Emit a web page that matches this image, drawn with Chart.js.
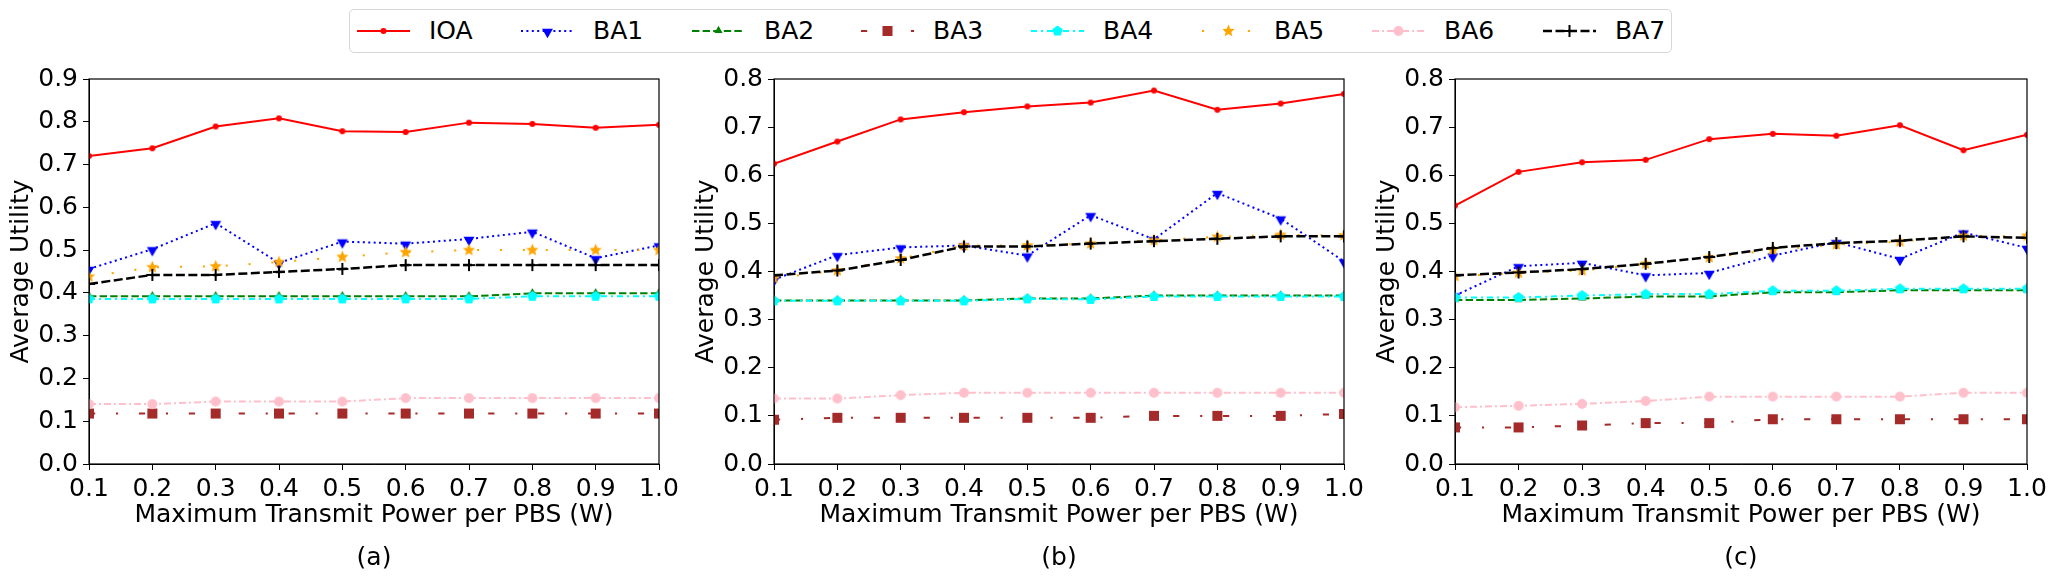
<!DOCTYPE html>
<html>
<head>
<meta charset="utf-8">
<script src="https://cdn.jsdelivr.net/npm/chart.js@4.4.0/dist/chart.umd.min.js"></script>
<style>
  body { margin: 0; width: 2056px; height: 578px; background: #fff; position: relative; overflow: hidden; font-family: "DejaVu Sans", sans-serif; }
  canvas.panel { position: absolute; top: 0; }
  .cap { position: absolute; top: 540px; width: 200px; text-align: center; font-size: 25px; line-height: 34px; color: #000; }
  #legend { position: absolute; left: 349px; top: 9px; width: 1321px; height: 42px; border: 1px solid #d6d6d6; border-radius: 5px; }
  .item { position: absolute; top: 0; height: 42px; }
  .item canvas { position: absolute; left: 0; top: 0; }
  .item span { position: absolute; top: 0; left: 72px; line-height: 42px; font-size: 25px; white-space: nowrap; color: #000; }
</style>
</head>
<body>
<div id="legend"></div>
<canvas id="chartA" class="panel" width="680" height="578" style="left:0px"></canvas>
<canvas id="chartB" class="panel" width="680" height="578" style="left:685px"></canvas>
<canvas id="chartC" class="panel" width="690" height="578" style="left:1366px"></canvas>
<div class="cap" style="left:274px">(a)</div>
<div class="cap" style="left:959px">(b)</div>
<div class="cap" style="left:1641px">(c)</div>
<script>
const xTicks = ['0.1', '0.2', '0.3', '0.4', '0.5', '0.6', '0.7', '0.8', '0.9', '1.0'];
const seriesNames = ['IOA', 'BA1', 'BA2', 'BA3', 'BA4', 'BA5', 'BA6', 'BA7'];

// panel (a)
const ioaA = [0.720, 0.738, 0.789, 0.808, 0.778, 0.776, 0.798, 0.795, 0.786, 0.793];
const ba1A = [0.456, 0.502, 0.563, 0.470, 0.520, 0.515, 0.526, 0.543, 0.481, 0.511];
const ba2A = [0.392, 0.392, 0.392, 0.392, 0.392, 0.392, 0.392, 0.399, 0.399, 0.399];
const ba3A = [0.118, 0.118, 0.118, 0.118, 0.118, 0.118, 0.118, 0.118, 0.118, 0.118];
const ba4A = [0.386, 0.386, 0.386, 0.386, 0.386, 0.386, 0.386, 0.392, 0.392, 0.392];
const ba5A = [0.438, 0.460, 0.462, 0.472, 0.484, 0.495, 0.500, 0.500, 0.500, 0.500];
const ba6A = [0.140, 0.140, 0.146, 0.146, 0.146, 0.154, 0.154, 0.154, 0.154, 0.154];
const ba7A = [0.421, 0.442, 0.442, 0.449, 0.456, 0.465, 0.465, 0.465, 0.465, 0.465];

// panel (b)
const ioaB = [0.624, 0.670, 0.716, 0.731, 0.743, 0.751, 0.776, 0.736, 0.749, 0.769];
const ba1B = [0.383, 0.434, 0.450, 0.454, 0.433, 0.517, 0.467, 0.563, 0.510, 0.421];
const ba2B = [0.340, 0.340, 0.340, 0.340, 0.344, 0.344, 0.350, 0.350, 0.350, 0.350];
const ba3B = [0.092, 0.096, 0.096, 0.096, 0.096, 0.096, 0.100, 0.100, 0.100, 0.104];
const ba4B = [0.339, 0.339, 0.339, 0.339, 0.343, 0.342, 0.348, 0.348, 0.348, 0.348];
const ba5B = [0.386, 0.402, 0.427, 0.454, 0.454, 0.458, 0.465, 0.472, 0.476, 0.475];
const ba6B = [0.136, 0.136, 0.143, 0.148, 0.148, 0.148, 0.148, 0.148, 0.148, 0.148];
const ba7B = [0.392, 0.402, 0.424, 0.452, 0.452, 0.458, 0.463, 0.468, 0.473, 0.473];

// panel (c)
const ioaC = [0.537, 0.607, 0.627, 0.632, 0.675, 0.686, 0.682, 0.704, 0.652, 0.684];
const ba1C = [0.350, 0.411, 0.418, 0.392, 0.397, 0.433, 0.461, 0.426, 0.481, 0.449];
const ba2C = [0.341, 0.341, 0.344, 0.348, 0.348, 0.357, 0.357, 0.361, 0.361, 0.361];
const ba3C = [0.076, 0.076, 0.080, 0.085, 0.085, 0.093, 0.093, 0.093, 0.093, 0.093];
const ba4C = [0.346, 0.346, 0.350, 0.353, 0.353, 0.360, 0.360, 0.364, 0.364, 0.364];
const ba5C = [0.390, 0.397, 0.402, 0.416, 0.429, 0.445, 0.456, 0.462, 0.474, 0.474];
const ba6C = [0.118, 0.121, 0.125, 0.131, 0.140, 0.140, 0.140, 0.140, 0.148, 0.148];
const ba7C = [0.392, 0.398, 0.405, 0.416, 0.430, 0.449, 0.459, 0.464, 0.473, 0.470];

// look of each series (matplotlib style)
const styles = [
  { color: '#ff0000', lw: 2,   dash: [],                    marker: 'circle',  size: 6 },
  { color: '#0000ff', lw: 2,   dash: [2, 3.4],              marker: 'triDown', size: 12 },
  { color: '#008000', lw: 2,   dash: [7.4, 3.2],            marker: 'triUp',   size: 9 },
  { color: '#a52a2a', lw: 2,   dash: [6.2, 20.8, 2.1, 20.8], marker: 'square', size: 10 },
  { color: '#00ffff', lw: 2,   dash: [6, 4, 2, 4],          marker: 'pentagon', size: 11 },
  { color: '#ffa500', lw: 2,   dash: [2.1, 20.8],           marker: 'star',    size: 13 },
  { color: '#ffc0cb', lw: 2,   dash: [7, 3, 2, 3],          marker: 'circle',  size: 10 },
  { color: '#000000', lw: 2.5, dash: [9, 3.5],              marker: 'plus',    size: 12 }
];

function polygon(ctx, x, y, r, n, rot) {
  for (let k = 0; k < n; k++) {
    const a = rot + k * 2 * Math.PI / n;
    const px = x + r * Math.cos(a), py = y + r * Math.sin(a);
    if (k === 0) ctx.moveTo(px, py); else ctx.lineTo(px, py);
  }
  ctx.closePath();
}

function drawMarker(ctx, kind, x, y, s, color) {
  const r = s / 2;
  ctx.save();
  ctx.setLineDash([]);
  ctx.fillStyle = color;
  ctx.strokeStyle = color;
  ctx.beginPath();
  if (kind === 'circle') {
    ctx.arc(x, y, r, 0, Math.PI * 2);
    ctx.fill();
  } else if (kind === 'square') {
    ctx.rect(x - r, y - r, s, s);
    ctx.fill();
  } else if (kind === 'triDown') {
    polygon(ctx, x, y + r * 0.15, r * 1.05, 3, Math.PI / 2);
    ctx.fill();
  } else if (kind === 'triUp') {
    polygon(ctx, x, y - r * 0.1, r * 1.05, 3, -Math.PI / 2);
    ctx.fill();
  } else if (kind === 'pentagon') {
    polygon(ctx, x, y, r, 5, -Math.PI / 2);
    ctx.fill();
  } else if (kind === 'star') {
    for (let k = 0; k < 10; k++) {
      const a = -Math.PI / 2 + k * Math.PI / 5;
      const rr = k % 2 === 0 ? r : r * 0.45;
      const px = x + rr * Math.cos(a), py = y + rr * Math.sin(a);
      if (k === 0) ctx.moveTo(px, py); else ctx.lineTo(px, py);
    }
    ctx.closePath();
    ctx.fill();
  } else if (kind === 'plus') {
    ctx.lineWidth = 2;
    ctx.moveTo(x - r, y); ctx.lineTo(x + r, y);
    ctx.moveTo(x, y - r); ctx.lineTo(x, y + r);
    ctx.stroke();
  }
  ctx.restore();
}

function markerImage(st) {
  const c = document.createElement('canvas');
  c.width = st.size + 4;
  c.height = st.size + 4;
  drawMarker(c.getContext('2d'), st.marker, c.width / 2, c.height / 2, st.size, st.color);
  return c;
}
const markerImgs = styles.map(markerImage);

// legend (html, samples drawn by hand)
const legendStarts = [7, 171, 342, 511, 681, 852, 1022, 1193];
const legendEl = document.getElementById('legend');
seriesNames.forEach((name, i) => {
  const st = styles[i];
  const item = document.createElement('div');
  item.className = 'item';
  item.style.left = legendStarts[i] + 'px';
  const c = document.createElement('canvas');
  c.width = 56; c.height = 42;
  const ctx = c.getContext('2d');
  ctx.strokeStyle = st.color;
  ctx.lineWidth = st.lw;
  ctx.setLineDash(st.dash);
  ctx.beginPath();
  ctx.moveTo(0, 21); ctx.lineTo(53, 21);
  ctx.stroke();
  drawMarker(ctx, st.marker, 26.5, 21, st.size, st.color);
  const t = document.createElement('span');
  t.textContent = name;
  item.appendChild(c);
  item.appendChild(t);
  legendEl.appendChild(item);
});

const frame = {
  id: 'frame',
  afterDatasetsDraw(chart) {
    const a = chart.chartArea, ctx = chart.ctx;
    ctx.save();
    ctx.strokeStyle = '#000';
    ctx.lineWidth = 1.2;
    ctx.strokeRect(a.left, a.top, a.right - a.left, a.bottom - a.top);
    ctx.restore();
  }
};

const font = { family: 'DejaVu Sans', size: 25 };

function makeChart(id, series, yMax, padRight) {
  const datasets = series.map((vals, i) => ({
    label: seriesNames[i],
    data: vals,
    borderColor: styles[i].color,
    backgroundColor: styles[i].color,
    borderWidth: styles[i].lw,
    borderDash: styles[i].dash,
    pointStyle: markerImgs[i],
    pointRadius: 5,
    pointHoverRadius: 5,
    tension: 0,
    fill: false,
    clip: 0,
    order: 7 - i
  }));
  new Chart(document.getElementById(id).getContext('2d'), {
    type: 'line',
    data: { labels: xTicks, datasets: datasets },
    plugins: [frame],
    options: {
      responsive: false,
      animation: false,
      events: [],
      layout: { padding: { top: 79, left: 0, right: padRight, bottom: 48 } },
      plugins: { legend: { display: false }, tooltip: { enabled: false } },
      scales: {
        x: {
          type: 'category',
          offset: false,
          grid: { drawOnChartArea: false, tickLength: 6, color: '#000' },
          border: { color: '#000' },
          ticks: { font: font, color: '#000', padding: 4, maxRotation: 0, autoSkip: false },
          title: { display: true, text: 'Maximum Transmit Power per PBS (W)', font: font, color: '#000', padding: 0 },
          afterFit(s) { s.height = 66; s.paddingLeft = 0; s.paddingRight = 0; }
        },
        y: {
          min: 0,
          max: yMax,
          grid: { drawOnChartArea: false, tickLength: 6, color: '#000' },
          border: { color: '#000' },
          ticks: { font: font, color: '#000', padding: 5, stepSize: 0.1, callback: v => v.toFixed(1) },
          title: { display: true, text: 'Average Utility', font: font, color: '#000', padding: 6 },
          afterFit(s) { s.width = 89; s.paddingTop = 0; s.paddingBottom = 0; }
        }
      }
    }
  });
}

makeChart('chartA', [ioaA, ba1A, ba2A, ba3A, ba4A, ba5A, ba6A, ba7A], 0.9, 21);
makeChart('chartB', [ioaB, ba1B, ba2B, ba3B, ba4B, ba5B, ba6B, ba7B], 0.8, 21);
makeChart('chartC', [ioaC, ba1C, ba2C, ba3C, ba4C, ba5C, ba6C, ba7C], 0.8, 29);
</script>
</body>
</html>
